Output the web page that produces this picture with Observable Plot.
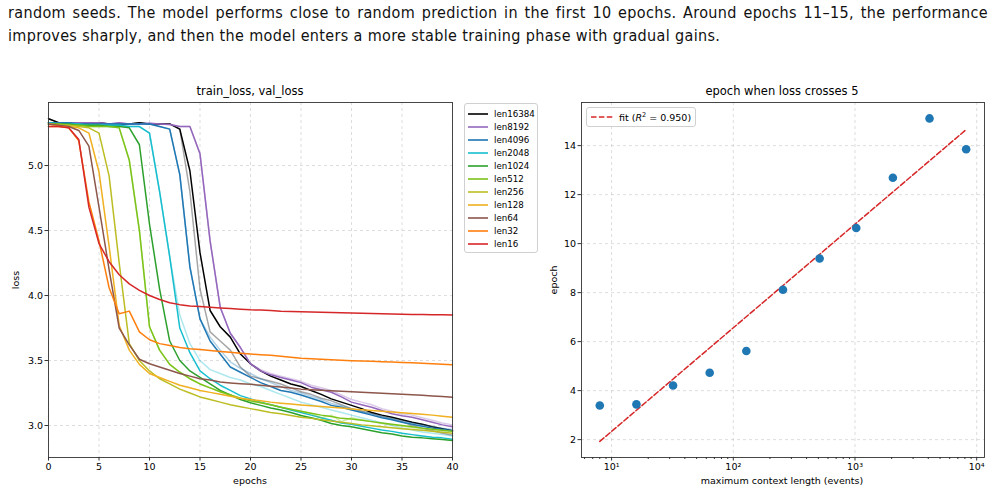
<!DOCTYPE html>
<html><head><meta charset="utf-8">
<script src="https://cdn.jsdelivr.net/npm/d3@7"></script>
<script src="https://cdn.jsdelivr.net/npm/@observablehq/plot@0.6"></script>
<style>
body{margin:0;width:996px;height:495px;overflow:hidden;background:#fff;position:relative;font-family:"DejaVu Sans",sans-serif;color:#000;}
.abs{position:absolute;}
.para{position:absolute;left:8px;width:980px;font-family:"DejaVu Sans Condensed","DejaVu Sans",sans-serif;font-size:16px;letter-spacing:0.35px;color:#111;white-space:nowrap;}
.title{position:absolute;font-size:11.5px;transform:translateX(-50%);white-space:nowrap;}
.alabel{position:absolute;font-size:9.5px;white-space:nowrap;}
.legend{position:absolute;border:1px solid #d0d0d0;border-radius:3px;background:rgba(255,255,255,0.85);font-size:8.7px;}
.lrow{position:absolute;left:3px;height:12px;display:flex;align-items:center;white-space:nowrap;}
.plotbox svg{display:block;max-width:none;}
</style></head><body>
<div class="para" id="p1" style="top:3px;text-align:justify;text-align-last:justify;white-space:normal;">random seeds. The model performs close to random prediction in the first 10 epochs. Around epochs 11–15, the performance</div>
<div class="para" style="top:26px;">improves sharply, and then the model enters a more stable training phase with gradual gains.</div>
<div class="title" style="left:250px;top:84px;">train_loss, val_loss</div>
<div class="title" style="left:782px;top:84px;">epoch when loss crosses 5</div>
<div class="alabel" style="left:250px;top:475px;transform:translateX(-50%);">epochs</div>
<div class="alabel" style="left:782px;top:475px;transform:translateX(-50%);">maximum context length (events)</div>
<div class="alabel" style="left:15px;top:280px;transform:translate(-50%,-50%) rotate(-90deg);">loss</div>
<div class="alabel" style="left:553px;top:280px;transform:translate(-50%,-50%) rotate(-90deg);">epoch</div>
<div id="left" class="abs plotbox" style="left:0;top:95px;width:460px;height:395px;"></div>
<div id="right" class="abs plotbox" style="left:530px;top:95px;width:466px;height:395px;"></div>
<div id="leg1" class="legend" style="left:464px;top:103px;width:72px;height:148px;"></div>
<div class="legend" style="left:586px;top:107px;width:108px;height:18px;font-size:9.5px;">
  <div style="position:absolute;left:4px;top:3px;display:flex;align-items:center;white-space:nowrap;">
    <svg width="22" height="4" style="margin-right:6px;"><line x1="0" y1="2" x2="22" y2="2" stroke="#d62728" stroke-width="1.5" stroke-dasharray="5.5,2.4"/></svg>
    <span>fit (<i>R</i><sup style="font-size:6.5px;">2</sup> = 0.950)</span>
  </div>
</div>
<script>
// ---------- data ----------
const epochs = [0,1,2,3,4,5,6,7,8,9,10,11,12,13,14,15,16,17,18,19,20,21,22,23,24,25,26,27,28,29,30,31,32,33,34,35,36,37,38,39,40];
const seriesNames = ["len16384","len8192","len4096","len2048","len1024","len512","len256","len128","len64","len32","len16"];
const seriesColors = ["#000000","#9467bd","#1f77b4","#17becf","#2ca02c","#7cc41a","#bcbd22","#f0b020","#8c564b","#ff7f0e","#d62728"];

const train16384 = [5.36,5.33,5.33,5.33,5.33,5.33,5.32,5.32,5.32,5.33,5.32, 5.32,5.32,5.28,4.96,4.33,3.885,3.76,3.68,3.55,3.475, 3.42,3.38,3.35,3.32,3.30,3.27,3.24,3.205,3.18,3.155, 3.13,3.10,3.08,3.064,3.045,3.025,3.01,2.99,2.975,2.96];
const train8192  = [5.33,5.33,5.33,5.33,5.33,5.33,5.32,5.33,5.32,5.32,5.325, 5.32,5.315,5.30,5.30,5.09,4.42,3.91,3.71,3.60,3.475, 3.42,3.39,3.37,3.35,3.33,3.295,3.275,3.256,3.22,3.18, 3.16,3.14,3.115,3.09,3.075,3.064,3.045,3.025,3.005,2.99];
const train4096  = [5.33,5.33,5.33,5.32,5.32,5.32,5.32,5.32,5.32,5.32,5.32, 5.30,5.28,4.93,4.22,3.82,3.65,3.55,3.45,3.41,3.37, 3.33,3.30,3.27,3.256,3.235,3.21,3.185,3.155,3.14,3.12, 3.10,3.08,3.06,3.045,3.025,3.01,2.995,2.98,2.97,2.96];
const train2048  = [5.33,5.32,5.32,5.32,5.31,5.31,5.31,5.31,5.30,5.30,5.25, 4.80,4.30,3.75,3.56,3.42,3.36,3.31,3.27,3.23,3.205, 3.18,3.16,3.14,3.12,3.10,3.08,3.06,3.04,3.02,3.01, 2.995,2.98,2.965,2.955,2.94,2.93,2.92,2.91,2.905,2.895];
const train1024  = [5.32,5.32,5.32,5.31,5.31,5.31,5.30,5.30,5.29,5.16,4.55, 4.05,3.65,3.50,3.42,3.37,3.32,3.27,3.235,3.20,3.175, 3.155,3.135,3.12,3.10,3.077,3.06,3.04,3.015,3.0,2.99, 2.975,2.96,2.945,2.935,2.92,2.91,2.905,2.898,2.892,2.885];
const train512   = [5.32,5.32,5.31,5.31,5.30,5.30,5.30,5.29,5.04,4.50,3.76, 3.58,3.47,3.41,3.36,3.32,3.29,3.26,3.235,3.21,3.19, 3.175,3.16,3.14,3.125,3.11,3.095,3.08,3.07,3.055,3.05, 3.04,3.03,3.02,3.01,3.0,2.99,2.98,2.972,2.963,2.955];
const train256   = [5.32,5.31,5.31,5.30,5.29,5.25,4.92,4.25,3.63,3.50,3.42, 3.36,3.32,3.28,3.25,3.22,3.20,3.18,3.16,3.145,3.13, 3.115,3.10,3.09,3.077,3.064,3.055,3.045,3.035,3.025,3.015, 3.005,2.998,2.99,2.983,2.976,2.97,2.963,2.956,2.948,2.94];
const train128   = [5.32,5.31,5.30,5.29,5.25,4.95,4.38,3.77,3.58,3.47,3.40, 3.37,3.34,3.31,3.29,3.27,3.255,3.24,3.225,3.21,3.20, 3.19,3.18,3.172,3.165,3.158,3.152,3.146,3.14,3.134,3.128, 3.122,3.116,3.11,3.104,3.098,3.092,3.086,3.08,3.072,3.064];
const train64    = [5.32,5.31,5.30,5.27,5.15,4.68,4.20,3.75,3.62,3.51,3.475, 3.45,3.425,3.40,3.38,3.36,3.35,3.335,3.328,3.322,3.317, 3.31,3.303,3.296,3.288,3.28,3.276,3.272,3.268,3.264,3.26, 3.256,3.252,3.248,3.244,3.24,3.236,3.232,3.228,3.223,3.218];
const train32    = [5.30,5.30,5.29,5.19,4.72,4.42,4.06,3.86,3.88,3.72,3.66, 3.63,3.615,3.60,3.59,3.585,3.577,3.57,3.563,3.556,3.55, 3.545,3.54,3.533,3.525,3.518,3.514,3.51,3.506,3.502,3.499, 3.497,3.494,3.491,3.488,3.485,3.482,3.479,3.476,3.472,3.467];
const train16    = [5.30,5.30,5.29,5.20,4.68,4.40,4.26,4.16,4.09,4.04,4.00, 3.97,3.945,3.93,3.92,3.915,3.91,3.905,3.90,3.895,3.89, 3.888,3.885,3.88,3.878,3.875,3.873,3.871,3.869,3.867,3.865, 3.863,3.861,3.859,3.858,3.856,3.855,3.854,3.853,3.852,3.85];

const val16384 = [5.36,5.33,5.33,5.33,5.33,5.33,5.32,5.32,5.32,5.33,5.32, 5.32,5.32,5.28,4.80,4.05,3.72,3.65,3.58,3.45,3.38, 3.36,3.34,3.32,3.29,3.26,3.24,3.21,3.19,3.16,3.13, 3.11,3.09,3.07,3.05,3.03,3.00,2.98,2.96,2.94,2.925];
const val8192  = [5.33,5.33,5.33,5.33,5.33,5.33,5.32,5.33,5.32,5.32,5.325, 5.32,5.315,5.30,5.30,5.09,4.42,3.91,3.71,3.60,3.475, 3.43,3.40,3.38,3.36,3.34,3.31,3.29,3.27,3.235,3.20, 3.18,3.16,3.13,3.11,3.09,3.08,3.06,3.04,3.02,3.005];
const val4096  = [5.33,5.33,5.33,5.32,5.32,5.32,5.32,5.32,5.32,5.32,5.32, 5.30,5.28,4.93,4.22,3.82,3.68,3.58,3.49,3.44,3.40, 3.36,3.33,3.30,3.27,3.25,3.225,3.20,3.17,3.15,3.13, 3.11,3.09,3.07,3.055,3.035,3.02,3.005,2.99,2.98,2.97];
const val2048  = [5.33,5.32,5.32,5.32,5.31,5.31,5.31,5.31,5.30,5.30,5.25, 4.80,4.30,3.85,3.63,3.50,3.43,3.40,3.37,3.35,3.32, 3.30,3.27,3.24,3.21,3.18,3.16,3.14,3.12,3.10,3.08, 3.06,3.04,3.02,3.0,2.98,2.965,2.95,2.94,2.93,2.92];
const val512   = [5.32,5.32,5.31,5.31,5.30,5.30,5.30,5.29,5.04,4.50,3.76, 3.58,3.47,3.41,3.36,3.32,3.29,3.26,3.235,3.21,3.19, 3.175,3.16,3.14,3.125,3.11,3.09,3.06,3.08,3.03,3.06, 3.045,3.03,3.015,3.005,2.995,2.985,2.975,2.97,2.96,2.955];

const xTicksLeft = [0,5,10,15,20,25,30,35,40];
const yTicksLeft = [3.0,3.5,4.0,4.5,5.0];

const ctxLen = [8,16,32,64,128,256,512,1024,2048,4096,8192];
const crossEpoch = [3.39,3.44,4.21,4.73,5.62,8.12,9.39,10.64,12.69,15.11,13.85];
const xMajor = [10,100,1000,10000];
const xMajorLabels = ["10¹","10²","10³","10⁴"];
const xMinor = [6,7,8,9,20,30,40,50,60,70,80,90,200,300,400,500,600,700,800,900,2000,3000,4000,5000,6000,7000,8000,9000];
const yTicksRight = [2,4,6,8,10,12,14];

// ---------- left chart ----------
const trainArrays = [train16384,train8192,train4096,train2048,train1024,train512,train256,train128,train64,train32,train16];
const valMap = {len16384: val16384, len8192: val8192, len4096: val4096, len2048: val2048, len512: val512};

const axisStyle = {fontFamily:"DejaVu Sans", fontSize:"9.5px", overflow:"visible", background:"transparent"};
const gridOpts = {stroke:"#b8b8b8", strokeOpacity:0.6, strokeDasharray:"3,3", strokeWidth:0.8};

const lineMarks = [];
seriesNames.forEach((name, i) => {
  const rows = epochs.map((e, j) => ({epoch: e, loss: trainArrays[i][j]}));
  lineMarks.push(Plot.line(rows, {x:"epoch", y:"loss", stroke: seriesColors[i], strokeWidth:1.5}));
  if (valMap[name]) {
    const vrows = epochs.map((e, j) => ({epoch: e, loss: valMap[name][j]}));
    lineMarks.push(Plot.line(vrows, {x:"epoch", y:"loss", stroke: seriesColors[i], strokeOpacity:0.35, strokeWidth:1.5}));
  }
});

const left = Plot.plot({
  width: 460, height: 395,
  marginLeft: 48, marginRight: 8, marginTop: 7, marginBottom: 33,
  style: axisStyle,
  x: {domain:[0,40], label:null},
  y: {domain:[2.754,5.485], label:null},
  marks: [
    Plot.gridX(xTicksLeft, gridOpts),
    Plot.gridY(yTicksLeft, gridOpts),
    ...lineMarks,
    Plot.frame({stroke:"#333", strokeWidth:0.9}),
    Plot.axisX({ticks:xTicksLeft, tickSize:3.5, tickPadding:2, tickFormat:d=>String(d), label:null, stroke:"#333"}),
    Plot.axisY({ticks:yTicksLeft, tickSize:3.5, tickPadding:2, tickFormat:d3.format(".1f"), label:null, stroke:"#333"})
  ]
});
document.getElementById("left").appendChild(left);

// legend left
const leg = document.getElementById("leg1");
seriesNames.forEach((name, i) => {
  const r = document.createElement("div");
  r.className = "lrow";
  r.style.top = (4 + 13 * i) + "px";
  r.innerHTML = `<svg width="20" height="4" style="margin-right:6px;"><line x1="0" y1="2" x2="20" y2="2" stroke="${seriesColors[i]}" stroke-width="1.6"/></svg><span>${name}</span>`;
  leg.appendChild(r);
});

// ---------- right chart ----------
const pts = ctxLen.map((c, i) => ({len: c, epoch: crossEpoch[i]}));
// least-squares fit of epoch against log10(length)
const lx = ctxLen.map(Math.log10);
const mx = d3.mean(lx), my = d3.mean(crossEpoch);
const slope = d3.sum(lx, (v, i) => (v - mx) * (crossEpoch[i] - my)) / d3.sum(lx, v => (v - mx) ** 2);
const icpt = my - slope * mx;
const fitRows = [ctxLen[0], ctxLen[ctxLen.length - 1]].map(c => ({len: c, epoch: icpt + slope * Math.log10(c)}));

const right = Plot.plot({
  width: 466, height: 395,
  marginLeft: 51, marginRight: 12, marginTop: 7, marginBottom: 33,
  style: axisStyle,
  x: {type:"log", domain:[5.66, 11590], label:null},
  y: {domain:[1.27, 15.76], label:null},
  marks: [
    Plot.gridX(xMajor, gridOpts),
    Plot.gridY(yTicksRight, gridOpts),
    Plot.line(fitRows, {x:"len", y:"epoch", stroke:"#d62728", strokeWidth:1.5, strokeDasharray:"5.5,2.4"}),
    Plot.dot(pts, {x:"len", y:"epoch", r:4.3, fill:"#1f77b4"}),
    Plot.frame({stroke:"#333", strokeWidth:0.9}),
    Plot.axisX({ticks:xMinor, tickSize:2, tickFormat:() => "", label:null, stroke:"#333"}),
    Plot.axisX({ticks:xMajor, tickSize:3.5, tickPadding:2, tickFormat:d => xMajorLabels[xMajor.indexOf(d)], label:null, stroke:"#333"}),
    Plot.axisY({ticks:yTicksRight, tickSize:3.5, tickPadding:2, tickFormat:d => String(d), label:null, stroke:"#333"})
  ]
});
document.getElementById("right").appendChild(right);
</script>
</body></html>
